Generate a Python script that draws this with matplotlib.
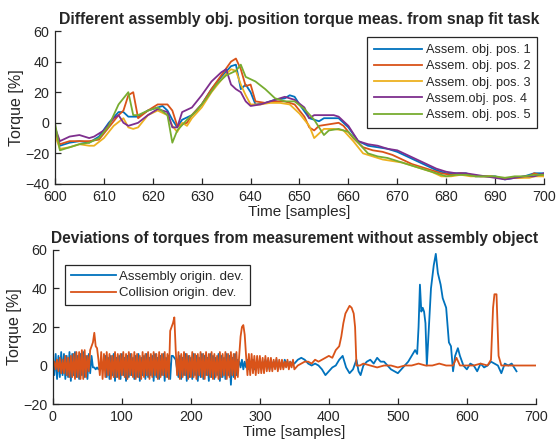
import numpy as np
import matplotlib
matplotlib.use("Agg")
import matplotlib.pyplot as plt

plt.rcParams['font.family'] = ['Liberation Sans', 'DejaVu Sans']

# ---------------- top chart data ----------------
top_title = "Different assembly obj. position torque meas. from snap fit task"
top_labels = ["Assem. obj. pos. 1", "Assem. obj. pos. 2", "Assem. obj. pos. 3",
              "Assem.obj. pos. 4", "Assem. obj. pos. 5"]
colors = ["#0072BD", "#D95319", "#EDB120", "#7E2F8E", "#77AC30"]

pos1_x = [600, 601, 603, 605, 607, 609, 611, 613, 614, 615, 617, 619, 621, 622, 623, 624, 625, 626, 628, 630,
          632, 634, 636, 637, 638, 639, 640, 641, 643, 645, 647, 648, 649, 650, 652, 653, 654, 655, 657, 658,
          660, 662, 664, 666, 668, 670, 672, 674, 676, 678, 680, 682, 684, 686, 688, 690, 692, 694, 696, 698, 700]
pos1_y = [-5, -15, -13, -12, -13, -9, 0, 7, 7, 4, 4, 8, 10, 11, 8, 2, -3, 2, 5, 12,
          22, 30, 37, 38, 22, 25, 20, 12, 13, 15, 16, 18, 17, 12, 3, 2, 1, 3, 3, 3,
          -3, -12, -15, -16, -17, -19, -22, -25, -28, -31, -33, -33, -33, -35, -35, -35, -37, -36, -35, -33, -33]

pos2_x = [600, 601, 603, 605, 607, 609, 611, 613, 614, 615, 616, 617, 619, 621, 623, 624, 625, 627, 628, 630,
          632, 634, 636, 637, 638, 639, 640, 641, 643, 645, 647, 649, 651, 652, 653, 654, 656, 658, 659, 661,
          663, 665, 667, 669, 671, 673, 675, 677, 679, 681, 683, 685, 687, 689, 691, 693, 695, 697, 698, 700]
pos2_y = [-5, -14, -12, -12, -12, -11, -3, 5, 8, 18, 20, 3, 8, 12, 12, 8, -2, 0, 5, 12,
          22, 31, 40, 42, 35, 24, 25, 14, 13, 14, 14, 12, 4, -3, -5, -2, -1, 0, -2, -10,
          -16, -18, -19, -21, -24, -27, -29, -31, -33, -34, -33, -34, -35, -35, -36, -36, -36, -35, -33, -35]

pos3_x = [600, 601, 603, 605, 607, 608, 610, 612, 614, 615, 616, 617, 619, 621, 623, 624, 625, 626, 627, 628,
          630, 632, 634, 635, 636, 637, 638, 639, 640, 642, 644, 646, 648, 650, 652, 653, 654, 655, 657, 659,
          661, 663, 665, 667, 669, 671, 673, 675, 677, 679, 681, 683, 685, 687, 689, 691, 693, 695, 697, 698, 700]
pos3_y = [-8, -17, -16, -14, -15, -15, -10, -2, 3, -3, -4, -3, 5, 8, 5, -2, -6, 0, -2, 3,
          10, 20, 28, 32, 35, 34, 25, 18, 12, 12, 13, 13, 12, 6, -2, -10, -7, -4, -4, -5,
          -12, -20, -22, -24, -25, -26, -28, -30, -32, -35, -35, -34, -35, -35, -35, -36, -36, -36, -36, -35, -35]

pos4_x = [600, 601, 603, 605, 607, 608, 610, 612, 613, 614, 615, 617, 619, 621, 623, 624, 625, 626, 628, 630,
          632, 634, 635, 636, 637, 638, 639, 640, 642, 644, 646, 647, 649, 651, 652, 653, 655, 657, 658, 660,
          662, 664, 666, 668, 670, 672, 674, 676, 678, 680, 682, 684, 686, 688, 690, 692, 694, 696, 698, 700]
pos4_y = [-3, -12, -9, -8, -10, -9, -5, 3, 5, 0, -2, 0, 5, 9, 7, -3, -3, 7, 10, 18,
          27, 33, 35, 25, 22, 20, 14, 11, 12, 14, 16, 17, 15, 10, 3, 5, 5, 5, 4, -2,
          -12, -14, -15, -17, -18, -21, -24, -27, -30, -32, -33, -33, -34, -35, -36, -37, -36, -35, -35, -33]

pos5_x = [600, 601, 603, 605, 607, 609, 611, 613, 615, 616, 617, 619, 621, 623, 624, 625, 627, 629, 631, 633,
          635, 637, 638, 639, 641, 643, 645, 647, 649, 651, 653, 654, 655, 656, 658, 660, 662, 664, 666, 668,
          670, 672, 674, 676, 678, 680, 682, 684, 686, 688, 690, 692, 694, 696, 698, 700]
pos5_y = [0, -18, -16, -14, -13, -10, -2, 12, 20, 5, 5, 8, 10, 5, -13, -5, 2, 8, 16, 25,
          31, 34, 38, 30, 27, 22, 16, 14, 14, 9, 2, -3, -8, -5, -4, -6, -13, -20, -22, -23,
          -25, -27, -29, -31, -33, -35, -34, -34, -35, -35, -35, -36, -35, -35, -34, -34]

top_series = [(pos1_x, pos1_y), (pos2_x, pos2_y), (pos3_x, pos3_y), (pos4_x, pos4_y), (pos5_x, pos5_y)]

# ---------------- bottom chart data ----------------
bot_title = "Deviations of torques from measurement without assembly object"
bot_labels = ["Assembly origin. dev.", "Collision origin. dev."]

# Assembly origin deviation (blue): dense part sampled every 2 samples from 0 to 348
asm_dense_y = [0, -5, 6, -7, 5, -6, 7, -5, 6, -7, 5, -6, 7, -8, 6, -5, 7, -6, 5, -7,
               6, -5, 7, -6, 5, -7, 6, -4, 5, -1, -1, -2, -1, -2, -1, -1, -2, -1, 5, -6,
               4, -7, 5, -5, 6, -8, 4, -6, 5, -7, 6, -5, 4, -8, 5, -6, 6, -5, 4, -7,
               5, -6, 6, -8, 4, -5, 5, -7, 6, -6, 4, -5, 5, -8, 6, -6, 4, -7, 5, -5,
               6, -8, 4, -6, 5, -7, 5, 5, 4, 3, -2, -6, 5, -7, 4, -5, 6, -8, 5, -6,
               4, -7, 6, -5, 5, -8, 4, -6, 6, -7, 5, -5, 4, -8, 6, -6, 5, -7, 4, -5,
               6, -8, 5, -6, 4, -7, 6, -5, 5, -10, 4, -6, 6, -5, 3, 2, -1, 3, -2, 2,
               -1, 3, -2, 2, -1, 3, -2, 1, 2, -1, 3, -2, 2, -1, 3, 0, 2, -2, 3, -1,
               2, -1, 3, -2, 1, 0, 2, -1, 3, 1, 2, -1, 2, 1]
asm_tail_x = [350, 355, 360, 365, 370, 375, 380, 385, 390, 395, 400, 405, 410, 415, 420, 425, 430, 435, 440, 443,
              446, 450, 455, 460, 465, 470, 475, 480, 485, 490, 495, 500, 505, 510, 515, 520, 525, 528, 530, 532,
              534, 536, 538, 540, 542, 545, 548, 552, 555, 558, 562, 565, 570, 574, 577, 580, 583, 587, 590, 595,
              600, 605, 610, 615, 620, 625, 630, 635, 640, 645, 650, 655, 660, 665, 672]
asm_tail_y = [1, 3, 4, 3, 1, 0, 1, 0, -2, -5, -3, -1, 0, 3, 5, -1, -4, -2, 3, -3,
              -5, 0, 2, 3, 1, 4, 2, 2, 0, -2, -3, -4, -2, 0, 2, 5, 8, 6, 20, 42,
              28, 30, 28, 22, 0, 20, 40, 52, 58, 48, 42, 35, 30, 12, 10, -3, 5, 9, 5, 0,
              -2, 1, 0, -3, 1, -1, 0, 2, 1, 0, -4, 1, 0, 1, -3]

# Collision origin deviation (orange): dense part sampled every 2 samples from 0 to 348
col_dense_y = [0, 2, -2, 3, -3, 4, -4, 3, -4, 5, -5, 4, -6, 5, -6, 6, -7, 7, -6, 7,
               -7, 8, -7, 8, -6, 5, -3, 8, 10, 12, 17, 10, 9, 3, -5, 7, -7, 6, -6, 7,
               -5, 6, -7, 5, -6, 7, -6, 6, -7, 6, -5, 7, -6, 6, -7, 7, -5, 6, -6, 7,
               -7, 6, -6, 5, -7, 7, -6, 6, -5, 7, -7, 6, -6, 7, -5, 6, -7, 7, -6, 6,
               -5, 7, -6, 6, -7, 18, 20, 22, 25, 8, -5, 7, -7, 6, -6, 7, -5, 6, -7, 5,
               -6, 7, -6, 6, -7, 6, -5, 7, -6, 6, -7, 7, -5, 6, -6, 7, -7, 6, -6, 5,
               -7, 7, -6, 6, -5, 7, -7, 6, -6, 7, -5, 6, -7, 7, -6, 5, 15, 20, 21, 16,
               5, -5, 6, -5, 6, -4, 5, -5, 5, -4, 5, -4, 4, -4, 5, -3, 4, -3, 4, -3,
               3, -2, 4, -3, 3, -2, 3, -2, 2, -1, 3, -2, 2, -1, 3]
col_tail_x = [350, 355, 360, 365, 370, 375, 380, 385, 390, 395, 400, 405, 410, 415, 418, 421, 424, 427, 430, 433,
              436, 438, 440, 445, 450, 460, 470, 480, 490, 500, 510, 520, 530, 540, 550, 560, 570, 580, 585, 590,
              600, 610, 620, 630, 635, 638, 640, 643, 646, 650, 660, 670, 680, 690, 700]
col_tail_y = [-2, 0, 1, 2, 2, 1, 3, 2, 3, 4, 5, 4, 8, 10, 15, 22, 27, 29, 31, 30,
              27, 20, 0, 0, 1, 0, -1, 0, 0, -1, 0, 0, 1, 0, 0, 1, 0, 0, 4, 0,
              0, 0, 1, 0, 3, 30, 37, 37, 5, 0, 0, 0, 0, 0, 0]


def build(dense_y, tail_x, tail_y):
    x = list(np.arange(len(dense_y)) * 2) + list(tail_x)
    y = list(dense_y) + list(tail_y)
    return x, y


asm_x, asm_y = build(asm_dense_y, asm_tail_x, asm_tail_y)
col_x, col_y = build(col_dense_y, col_tail_x, col_tail_y)

# ---------------- drawing ----------------
fig = plt.figure(figsize=(5.57, 4.43), dpi=100)
txt = "#262626"


def style(ax):
    for s in ['top', 'right']:
        ax.spines[s].set_visible(False)
    for s in ['left', 'bottom']:
        ax.spines[s].set_color(txt)
        ax.spines[s].set_linewidth(0.9)
    ax.tick_params(direction='in', length=4, colors=txt, labelsize=10.3, width=0.9, pad=4)


ax1 = fig.add_axes([0.0987, 0.5847, 0.878, 0.3453])
for (x, y), c, lab in zip(top_series, colors, top_labels):
    ax1.plot(x, y, color=c, lw=1.3, label=lab)
ax1.set_xlim(600, 700)
ax1.set_ylim(-40, 60)
ax1.set_xticks(np.arange(600, 701, 10))
ax1.set_yticks(np.arange(-40, 61, 20))
style(ax1)
ax1.set_title(top_title, fontsize=11.4, fontweight='bold', color=txt, pad=5)
ax1.set_xlabel("Time [samples]", fontsize=11, color=txt, labelpad=1)
ax1.set_ylabel("Torque [%]", fontsize=11.5, color=txt, labelpad=1)
leg1 = ax1.legend(loc='upper right', fontsize=9.2, handlelength=3.8, handletextpad=0.25,
                  fancybox=False, edgecolor=txt, framealpha=1, borderpad=0.55,
                  labelspacing=0.33, borderaxespad=0, bbox_to_anchor=(0.986, 0.96))
leg1.get_frame().set_linewidth(0.9)
for t in leg1.get_texts():
    t.set_color(txt)

ax2 = fig.add_axes([0.095, 0.088, 0.867, 0.3477])
ax2.plot(asm_x, asm_y, color=colors[0], lw=1.3, label=bot_labels[0])
ax2.plot(col_x, col_y, color=colors[1], lw=1.3, label=bot_labels[1])
ax2.set_xlim(0, 700)
ax2.set_ylim(-20, 60)
ax2.set_xticks(np.arange(0, 701, 100))
ax2.set_yticks(np.arange(-20, 61, 20))
style(ax2)
ax2.set_title(bot_title, fontsize=11.2, fontweight='bold', color=txt, pad=5)
ax2.set_xlabel("Time [samples]", fontsize=11, color=txt, labelpad=1)
ax2.set_ylabel("Torque [%]", fontsize=11.5, color=txt, labelpad=1)
leg2 = ax2.legend(loc='upper left', fontsize=9.5, handlelength=3.4, handletextpad=0.25,
                  fancybox=False, edgecolor=txt, framealpha=1, borderpad=0.45,
                  labelspacing=0.3, borderaxespad=0, bbox_to_anchor=(0.025, 0.903))
leg2.get_frame().set_linewidth(0.9)
for t in leg2.get_texts():
    t.set_color(txt)

fig.savefig("out.png", dpi=100)
